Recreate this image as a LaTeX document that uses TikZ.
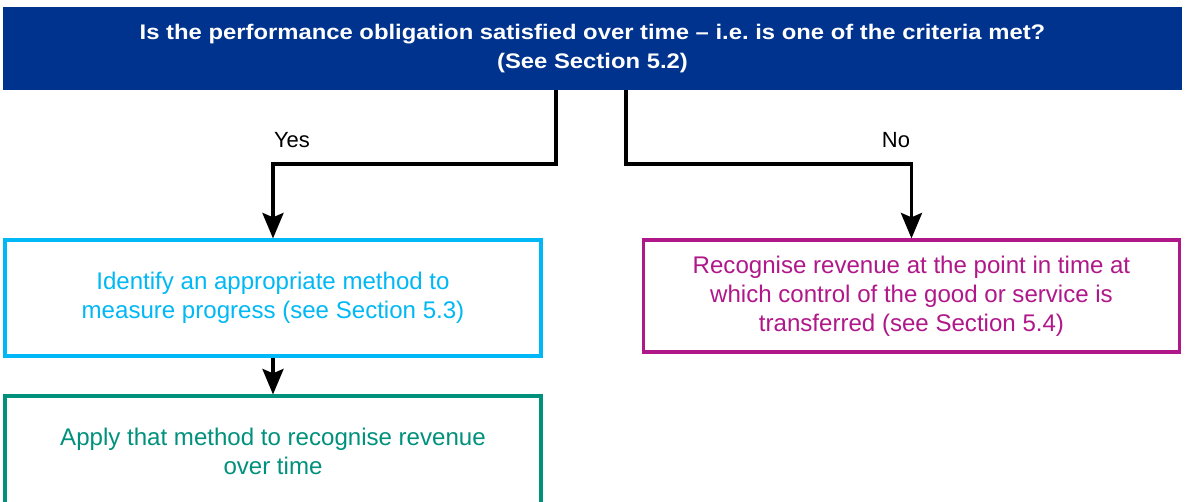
\documentclass[tikz,border=0pt]{standalone}
\usepackage{fontspec}
\setmainfont{Liberation Sans}
\newfontfamily\titlefont[FakeStretch=1.13]{Liberation Sans}
\usetikzlibrary{arrows.meta}
\definecolor{kblue}{RGB}{0,51,141}
\definecolor{kcyan}{RGB}{0,184,245}
\definecolor{kgreen}{RGB}{0,145,125}
\definecolor{kmagenta}{RGB}{176,24,138}
\tikzset{
    stepbox/.style={
        draw, line width=1.8pt, fill=white, align=center, inner sep=0pt,
        font=\fontsize{13.7}{16.6}\selectfont
    },
    flow/.style={
        draw=black, line width=2pt,
        -{Stealth[length=14.5pt, width=12pt, inset=2.5pt]}
    },
    answer/.style={font=\fontsize{12.5}{15}\selectfont}
}
\begin{document}
\begin{tikzpicture}[x=0.02cm, y=-0.02cm]

		\def\unit{0.02cm}
		\def\widthboxes{536*\unit}

		\useasboundingbox (0,0) rectangle (1188,501);
		\clip (0,0) rectangle (1188,501);

		\node[ fill=kblue, text=white, align=center, inner sep=0pt,
		       minimum width=1179*\unit, minimum height=83*\unit,
		       font=\titlefont\fontsize{12}{16}\selectfont\bfseries ] (question) at (592.5,48.5)
			{Is the performance obligation satisfied over time – i.e.\ is one of the criteria met?\\ (See Section 5.2)};

		\node[ stepbox, draw=kcyan, text=kcyan, minimum width=\widthboxes, minimum height=116*\unit ] (method) at (273,298)
			{Identify an appropriate method to\\ measure progress (see Section 5.3)};

		\node[ stepbox, draw=kgreen, text=kgreen, minimum width=\widthboxes, minimum height=140*\unit ] (apply) at (273,466) {};
		\node[ text=kgreen, align=center, font=\fontsize{13.7}{16.6}\selectfont ] (applytext) at (273,451)
			{Apply that method to recognise revenue\\ over time};

		\node[ stepbox, draw=kmagenta, text=kmagenta, minimum width=\widthboxes, minimum height=112*\unit ] (pointintime) at (911.5,296)
			{Recognise revenue at the point in time at\\ which control of the good or service is\\ transferred (see Section 5.4)};

		\coordinate (yesknee) at (556,164);
		\coordinate (noknee) at (626,164);

		\draw[ flow ] (question.south -| yesknee) -- (yesknee) -| (method.north);
		\draw[ flow ] (question.south -| noknee) -- (noknee) -| (pointintime.north);
		\draw[ flow ] (method.south) -- (apply.north);

		\node[ answer ] (yes) at (292,140) {Yes};
		\node[ answer ] (no) at (896,140) {No};

	\end{tikzpicture}
\end{document}
